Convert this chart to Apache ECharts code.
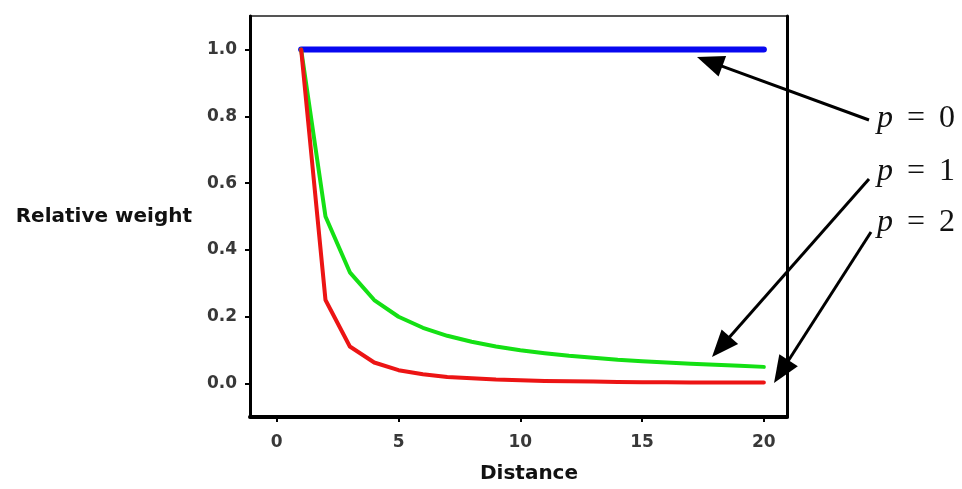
<!DOCTYPE html>
<html><head><meta charset="utf-8">
<script src="https://cdn.jsdelivr.net/npm/echarts@6/dist/echarts.min.js"></script>
<style>html,body{margin:0;padding:0;background:#fff}#c{width:962px;height:489px}</style>
</head><body><div id="c"></div>
<script>
const distance = [1,2,3,4,5,6,7,8,9,10,11,12,13,14,15,16,17,18,19,20];
const weightP0 = [1,1,1,1,1,1,1,1,1,1,1,1,1,1,1,1,1,1,1,1];
const weightP1 = [1,0.5,0.333,0.25,0.2,0.167,0.143,0.125,0.111,0.1,0.091,0.083,0.077,0.071,0.067,0.063,0.059,0.056,0.053,0.05];
const weightP2 = [1,0.25,0.111,0.063,0.04,0.028,0.02,0.016,0.012,0.01,0.008,0.007,0.006,0.005,0.004,0.004,0.003,0.003,0.003,0.003];
const xTickValues = [0,5,10,15,20];
const yTickValues = [0,0.2,0.4,0.6,0.8,1.0];
const labelDigits = ['0','1','2'];

const pair = (xs, ys) => xs.map((x, i) => [x, ys[i]]);

// annotation arrows (pixel positions: tail near label, tip near curve)
const arrows = [
  {tail:[869,120], tip:[697,57]},
  {tail:[869,179], tip:[712,357]},
  {tail:[871,232], tip:[774,383]}
];
const labelY = [119, 172, 223];

function arrowGraphics(a){
  const dx = a.tail[0]-a.tip[0], dy = a.tail[1]-a.tip[1];
  const len = Math.hypot(dx, dy), ux = dx/len, uy = dy/len, nx = -uy, ny = ux;
  const L = 27, W = 11;
  const bx = a.tip[0]+ux*L, by = a.tip[1]+uy*L;
  return [
    {type:'line', shape:{x1:a.tail[0], y1:a.tail[1], x2:bx-ux*2, y2:by-uy*2}, style:{stroke:'#000', lineWidth:3}},
    {type:'polygon', shape:{points:[a.tip,[bx+nx*W,by+ny*W],[bx-nx*W,by-ny*W]]}, style:{fill:'#000'}}
  ];
}

const graphics = [];
arrows.forEach(a => graphics.push(...arrowGraphics(a)));
labelDigits.forEach((d, i) => {
  graphics.push({
    type:'text', x:877, y:labelY[i],
    style:{
      text:'{p|p}{eq|=}{n|' + d + '}',
      verticalAlign:'middle', align:'left',
      rich:{
        p:{fontFamily:'Liberation Serif', fontStyle:'italic', fontSize:32, fill:'#111'},
        eq:{fontFamily:'Liberation Serif', fontSize:32, fill:'#111', padding:[0,14,0,14]},
        n:{fontFamily:'Liberation Serif', fontSize:32, fill:'#111'}
      }
    }
  });
});

const chart = echarts.init(document.getElementById('c'), null, {renderer:'canvas'});
const tickFont = {fontFamily:'DejaVu Sans', fontWeight:'bold', fontSize:17, color:'#383838'};
chart.setOption({
  backgroundColor:'#fff',
  animation:false,
  grid:{left:250, top:16, right:175, bottom:69, show:true, borderColor:'#555', borderWidth:2, backgroundColor:'transparent'},
  xAxis:{
    type:'value', min:-1.1, max:20.95,
    name:'Distance', nameLocation:'middle', nameGap:47,
    nameTextStyle:{fontFamily:'DejaVu Sans', fontWeight:'bold', fontSize:20, color:'#111', padding:[0,0,0,21]},
    axisLine:{show:true, onZero:false, lineStyle:{color:'#000', width:4}},
    axisTick:{show:true, customValues:xTickValues, length:5, lineStyle:{color:'#000', width:2}},
    axisLabel:{customValues:xTickValues, margin:17, ...tickFont},
    splitLine:{show:false}
  },
  yAxis:[{
    type:'value', min:-0.1, max:1.1,
    name:'Relative weight', nameLocation:'middle', nameGap:58, nameRotate:0,
    nameTextStyle:{fontFamily:'DejaVu Sans', fontWeight:'bold', fontSize:20, color:'#111', align:'right', padding:[8,0,0,0]},
    axisLine:{show:true, onZero:false, lineStyle:{color:'#000', width:3}},
    axisTick:{show:true, customValues:yTickValues, length:5, lineStyle:{color:'#000', width:2}},
    axisLabel:{customValues:yTickValues, margin:13, formatter:v => v.toFixed(1), ...tickFont},
    splitLine:{show:false}
  },{
    type:'value', min:-0.1, max:1.1, position:'right',
    axisLine:{show:true, onZero:false, lineStyle:{color:'#000', width:3}},
    axisTick:{show:false}, axisLabel:{show:false}, splitLine:{show:false}
  }],
  series:[
    {name:'p = 0', type:'line', data:pair(distance, weightP0), symbol:'none', z:3,
     lineStyle:{color:'#0808f0', width:6, cap:'round', join:'round'}},
    {name:'p = 1', type:'line', data:pair(distance, weightP1), symbol:'none', z:4,
     lineStyle:{color:'#14e014', width:4, cap:'round', join:'round'}},
    {name:'p = 2', type:'line', data:pair(distance, weightP2), symbol:'none', z:5,
     lineStyle:{color:'#ec1414', width:4, cap:'round', join:'round'}}
  ],
  graphic:graphics
});
</script></body></html>
